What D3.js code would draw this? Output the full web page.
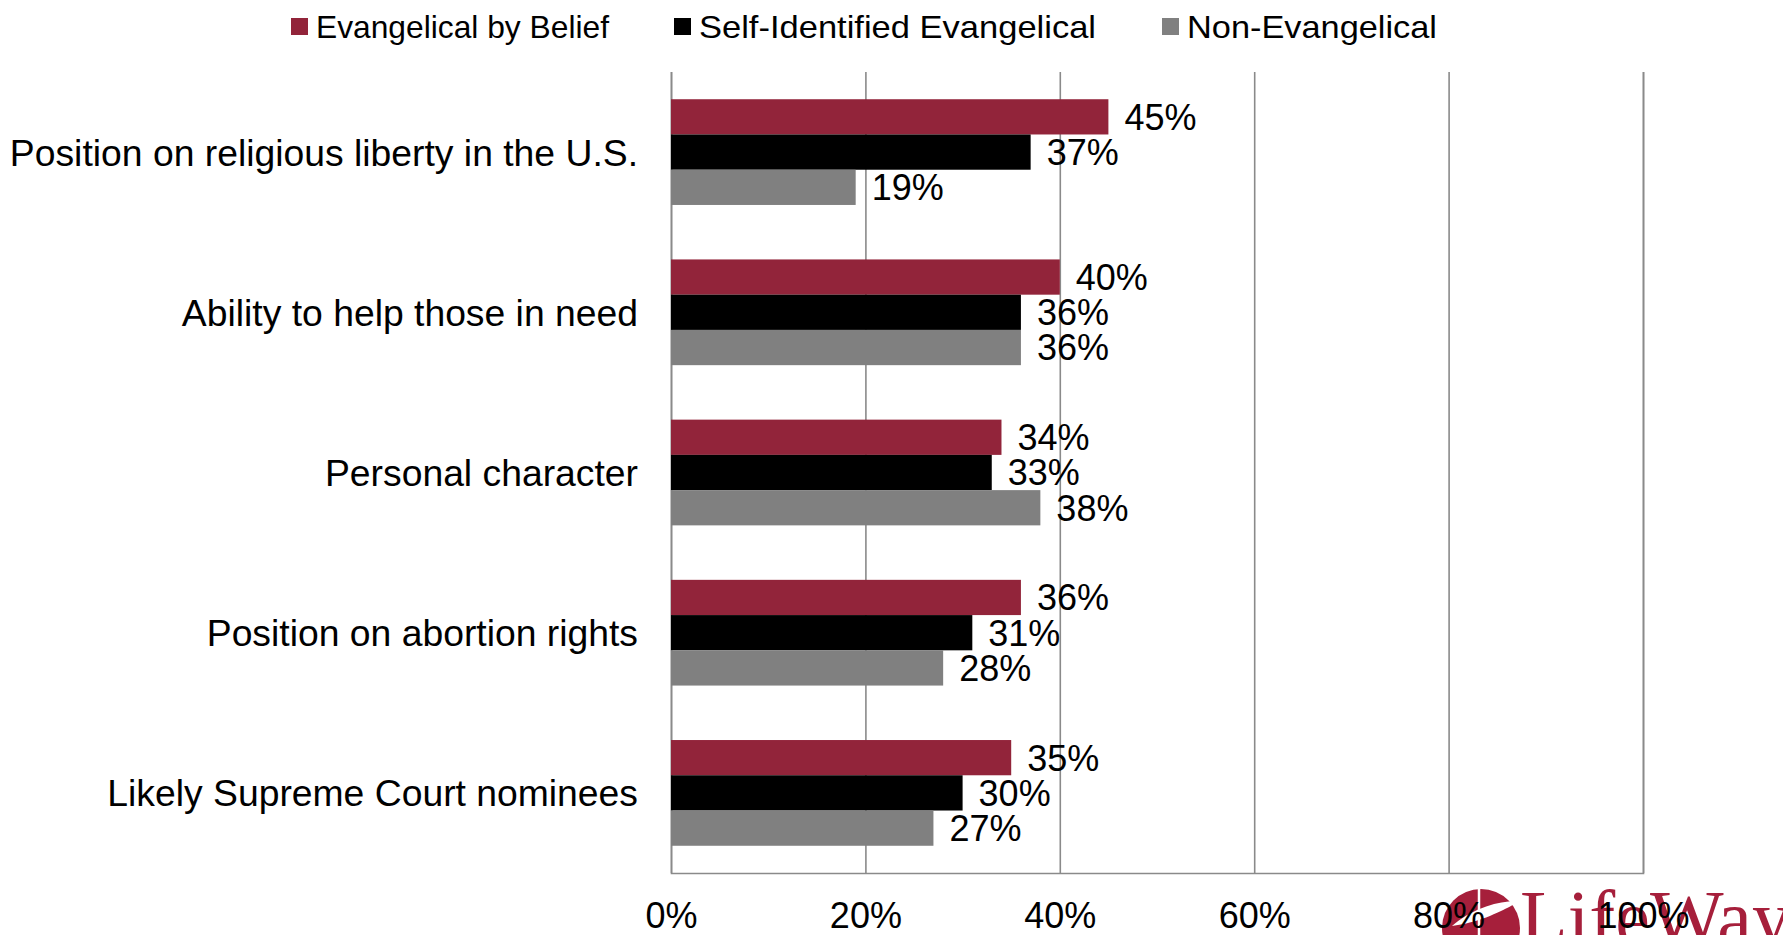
<!DOCTYPE html>
<html>
<head>
<meta charset="utf-8">
<script src="https://cdn.jsdelivr.net/npm/d3@7/dist/d3.min.js"></script>
<style>
  html, body { margin: 0; padding: 0; background: #fff; overflow: hidden; }
  svg { display: block; }
  text { font-family: "Liberation Sans", Arial, sans-serif; fill: #000; }
</style>
</head>
<body>
<svg id="chart" width="1783" height="935"></svg>
<script>
// Survey items (top to bottom)
const categories = [
  "Position on religious liberty in the U.S.",
  "Ability to help those in need",
  "Personal character",
  "Position on abortion rights",
  "Likely Supreme Court nominees"
];

// Respondent groups, in legend / bar order
const seriesNames = ["Evangelical by Belief", "Self-Identified Evangelical", "Non-Evangelical"];
const seriesColors = ["#92243a", "#000000", "#808080"];

// Share of each group citing the item (percent)
const evangelicalByBelief = [45, 40, 34, 36, 35];
const selfIdentified      = [37, 36, 33, 31, 30];
const nonEvangelical      = [19, 36, 38, 28, 27];
const seriesValues = [evangelicalByBelief, selfIdentified, nonEvangelical];

// Axis ticks
const tickValues = [0, 20, 40, 60, 80, 100];

const svg = d3.select("#chart");
const plotLeft = 671, plotRight = 1643, plotTop = 72, plotBottom = 873;

const x = d3.scaleLinear().domain([0, 100]).range([plotLeft, plotRight]);
const y0 = d3.scaleBand().domain(categories).range([plotTop, plotBottom])
  .paddingInner(0.34).paddingOuter(0.17);
const y1 = d3.scaleBand().domain(seriesNames).range([0, y0.bandwidth()]);

// Brand mark, bottom right (partly cut off by the page edge)
const logo = svg.append("g").attr("class", "logo");
logo.append("circle").attr("cx", 1481).attr("cy", 928).attr("r", 39).attr("fill", "#a61f3b");
logo.append("line").attr("x1", 1479).attr("x2", 1479).attr("y1", 888).attr("y2", 935)
  .attr("stroke", "#fff").attr("stroke-width", 2.5);
logo.append("path")
  .attr("d", "M1452,926 C1472,908 1503,899 1518,902 C1507,909 1490,916 1472,921 C1494,913 1508,907 1512,905 C1499,913 1476,923 1452,926 Z")
  .attr("fill", "#fff");
logo.append("text").attr("x", 1520).attr("y", 944)
  .style("font-family", "'Liberation Serif', 'DejaVu Serif', serif")
  .style("font-size", "78px").style("fill", "#a61f3b")
  .text("LifeWay");

// Vertical gridlines and baseline
const grid = svg.append("g").attr("transform", `translate(0,${plotBottom})`)
  .call(d3.axisBottom(x).tickValues(tickValues).tickSize(-(plotBottom - plotTop)).tickFormat(""));
grid.selectAll("line").attr("stroke", "#8a8a8a").attr("stroke-width", 1.6);
grid.select(".domain").attr("stroke", "#8a8a8a").attr("stroke-width", 1.6);

// Bars
const groups = svg.append("g").selectAll("g")
  .data(categories)
  .join("g")
  .attr("transform", d => `translate(0,${y0(d)})`);

groups.selectAll("rect")
  .data((d, i) => seriesNames.map((s, j) => ({ s, j, v: seriesValues[j][i] })))
  .join("rect")
  .attr("x", x(0))
  .attr("y", d => y1(d.s))
  .attr("width", d => x(d.v) - x(0))
  .attr("height", y1.bandwidth())
  .attr("fill", d => seriesColors[d.j]);

// Value labels
groups.selectAll("text.val")
  .data((d, i) => seriesNames.map((s, j) => ({ s, j, v: seriesValues[j][i] })))
  .join("text")
  .attr("class", "val")
  .attr("x", d => x(d.v) + 16)
  .attr("y", d => y1(d.s) + y1.bandwidth() / 2)
  .attr("dy", "0.36em")
  .style("font-size", "36px")
  .text(d => d.v + "%");

// Category labels
svg.append("g").selectAll("text")
  .data(categories)
  .join("text")
  .attr("x", 638)
  .attr("y", d => y0(d) + y0.bandwidth() / 2)
  .attr("dy", "0.36em")
  .attr("text-anchor", "end")
  .style("font-size", "37.3px")
  .text(d => d);

// Percentage tick labels
const axis = svg.append("g").attr("transform", `translate(0,${plotBottom})`)
  .call(d3.axisBottom(x).tickValues(tickValues).tickSize(0).tickPadding(29)
    .tickFormat(d => d + "%"));
axis.select(".domain").remove();
axis.selectAll("text").style("font-size", "36px")
  .style("font-family", "'Liberation Sans', Arial, sans-serif").attr("fill", "#000");

// Legend
const legendX = [291, 674, 1162];
const legendTextWidth = [293, 397, 250];
const legend = svg.append("g").selectAll("g")
  .data(seriesNames)
  .join("g")
  .attr("transform", (d, i) => `translate(${legendX[i]},26)`);
legend.append("rect").attr("x", 0).attr("y", -8).attr("width", 17).attr("height", 17)
  .attr("fill", (d, i) => seriesColors[i]);
legend.append("text").attr("x", 25).attr("dy", "0.36em")
  .attr("textLength", (d, i) => legendTextWidth[i])
  .attr("lengthAdjust", "spacingAndGlyphs")
  .style("font-size", "32px").text(d => d);
</script>
</body>
</html>
